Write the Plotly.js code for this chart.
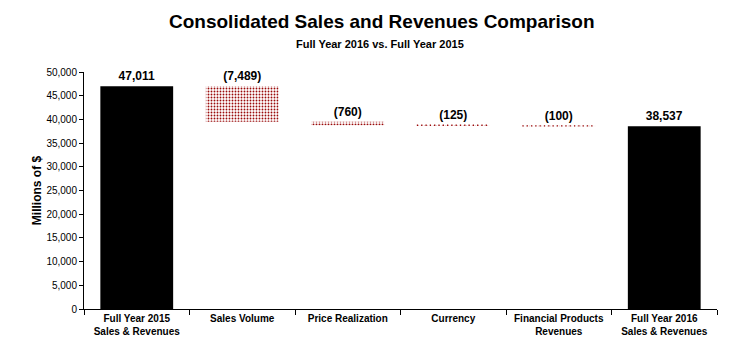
<!DOCTYPE html>
<html><head><meta charset="utf-8">
<script src="https://cdn.plot.ly/plotly-3.0.1.min.js"></script>
<style>html,body{margin:0;padding:0;background:#fff}#chart{width:742px;height:358px}</style>
</head><body><div id="chart"></div>
<script>
const categories = ["Full Year 2015<br>Sales & Revenues", "Sales Volume", "Price Realization", "Currency", "Financial Products<br>Revenues", "Full Year 2016<br>Sales & Revenues"];
const startValue = 47011;
const changes = [-7489, -760, -125, -100];
const endValue = 38537;

const FONT = "'Liberation Sans Narrow', 'Arial Narrow', 'Liberation Sans', Arial, sans-serif";
const fmt = v => Math.abs(v).toLocaleString('en-US');

const bases = [], heights = [], labels = [], isChange = [];
bases.push(0); heights.push(startValue); labels.push(fmt(startValue)); isChange.push(false);
let running = startValue;
changes.forEach(c => {
  const next = running + c;
  bases.push(Math.min(running, next));
  heights.push(Math.abs(c));
  labels.push(c < 0 ? "(" + fmt(c) + ")" : fmt(c));
  isChange.push(true);
  running = next;
});
bases.push(0); heights.push(endValue); labels.push(fmt(endValue)); isChange.push(false);

const dotLines = [];
bases.forEach((b, i) => {
  if (isChange[i] && heights[i] < 400) {
    dotLines.push({type: "line", xref: "x", yref: "y", x0: i - 0.345, x1: i + 0.345,
      y0: b + heights[i], y1: b + heights[i], line: {color: "#9a0a0a", width: 1.3, dash: "1.3px,3px"}});
  }
});

const totalsTrace = {
  type: "bar", x: categories, y: heights.map((h, i) => isChange[i] ? null : h),
  base: bases.map((b, i) => isChange[i] ? null : b), width: 0.69,
  marker: {color: "#000000", line: {width: 0}},
  text: labels.map((t, i) => isChange[i] ? "" : t), textposition: "outside", cliponaxis: false,
  textfont: {family: FONT, size: 12, color: "#000", weight: "bold"}, hoverinfo: "skip"
};
const changeTrace = {
  type: "bar", x: categories, y: heights.map((h, i) => isChange[i] ? h : null),
  base: bases.map((b, i) => isChange[i] ? b : null), width: 0.69,
  marker: {color: "#ffffff", line: {width: 0},
    pattern: {shape: ".", fgcolor: "#9a0a0a", bgcolor: "#ffffff", size: 3, solidity: 0.3}},
  text: labels.map((t, i) => isChange[i] ? t : ""), textposition: "outside", cliponaxis: false,
  textfont: {family: FONT, size: 12, color: "#000", weight: "bold"}, hoverinfo: "skip"
};

const layout = {
  width: 742, height: 358,
  margin: {l: 84, r: 25, t: 72, b: 49},
  paper_bgcolor: "#fff", plot_bgcolor: "#fff",
  showlegend: false, barmode: "overlay",
  font: {family: FONT, color: "#000"},
  annotations: [
    {text: "<b>Consolidated Sales and Revenues Comparison</b>", xref: "paper", yref: "paper", x: 0.471, y: 1 + (72 - 22) / 237,
      xanchor: "center", yanchor: "middle", showarrow: false, font: {family: FONT, size: 19, color: "#000"}},
    {text: "<b>Full Year 2016 vs. Full Year 2015</b>", xref: "paper", yref: "paper", x: 0.468, y: 1 + (72 - 44) / 237,
      xanchor: "center", yanchor: "middle", showarrow: false, font: {family: FONT, size: 11, color: "#000"}}
  ],
  xaxis: {type: "category", showline: true, linecolor: "#000", linewidth: 1, ticks: "outside", ticklen: 5,
    tickson: "boundaries", tickcolor: "#000", showgrid: false, zeroline: false,
    tickfont: {family: FONT, size: 10, color: "#000", weight: "bold"}},
  yaxis: {range: [0, 50000], dtick: 5000, tickformat: ",", showline: true, linecolor: "#000", linewidth: 1,
    ticks: "outside", ticklen: 4, tickcolor: "#000", showgrid: false, zeroline: false,
    tickfont: {family: FONT, size: 10, color: "#000"},
    title: {text: "<b>Millions of $</b>", font: {family: FONT, size: 12, color: "#000"}, standoff: 2}},
  shapes: dotLines
};
Plotly.newPlot("chart", [totalsTrace, changeTrace], layout, {displayModeBar: false, staticPlot: true});
</script></body></html>
